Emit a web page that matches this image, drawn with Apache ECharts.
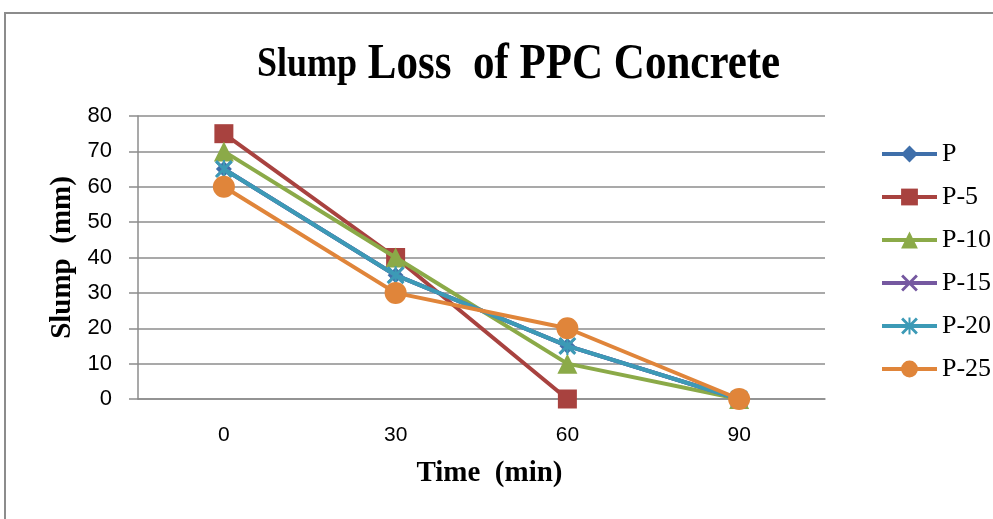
<!DOCTYPE html>
<html>
<head>
<meta charset="utf-8">
<title>Slump Loss of PPC Concrete</title>
<script src="https://cdn.jsdelivr.net/npm/echarts@6/dist/echarts.min.js"></script>
<style>
  html, body { margin: 0; padding: 0; background: #ffffff; }
  #chart { width: 993px; height: 519px; }
</style>
</head>
<body>
<div id="chart"></div>
<script>
// time after mixing (min)
const times = ['0', '30', '60', '90']
const seriesNames = ['P', 'P-5', 'P-10', 'P-15', 'P-20', 'P-25']
// slump values (mm)
const slumpP = [65, 35, 15, 0]
const slumpP5 = [75, 40, 0, null]
const slumpP10 = [70, 40, 10, 0]
const slumpP15 = [65, 35, 15, 0]
const slumpP20 = [65, 35, 15, 0]
const slumpP25 = [60, 30, 20, 0]
const yTicks = [0, 10, 20, 30, 40, 50, 60, 70, 80]

const colors = ['#3F6FAA', '#A8423F', '#8BAA48', '#7558A0', '#3C9AB6', '#E0853A']

// x mark and asterisk drawn as filled thin bars
const crossPath = 'path://M0,1.2 L1.2,0 L10,8.8 L8.8,10 Z M8.8,0 L10,1.2 L1.2,10 L0,8.8 Z'
const starPath = 'path://M0,1.2 L1.2,0 L10,8.8 L8.8,10 Z M8.8,0 L10,1.2 L1.2,10 L0,8.8 Z M4.4,0 L5.6,0 L5.6,10 L4.4,10 Z'

const seriesData = [slumpP, slumpP5, slumpP10, slumpP15, slumpP20, slumpP25]
const symbols = ['diamond', 'rect', 'triangle', crossPath, starPath, 'circle']
const symbolSizes = [16, 19, 20, 16, 18, 22]

const chart = echarts.init(document.getElementById('chart'))

const series = seriesNames.map((name, i) => ({
  name: name,
  type: 'line',
  data: seriesData[i],
  symbol: symbols[i],
  symbolSize: symbolSizes[i],
  showAllSymbol: true,
  connectNulls: false,
  lineStyle: { color: colors[i], width: 4 },
  itemStyle: { color: colors[i], borderWidth: 0 },
  z: 2 + i
}))

const option = {
  animation: false,
  backgroundColor: '#ffffff',
  color: colors,
  legend: {
    orient: 'vertical',
    left: 875,
    top: 136,
    itemWidth: 55,
    itemHeight: 21,
    itemGap: 17,
    lineStyle: { width: 4 },
    textStyle: {
      fontFamily: 'Liberation Serif',
      fontSize: 26,
      color: '#000',
      lineHeight: 24,
      padding: [0, 0, 0, 0]
    },
    data: seriesNames
  },
  grid: {
    left: 138,
    right: 168,
    top: 116,
    bottom: 120
  },
  xAxis: {
    type: 'category',
    data: times,
    name: 'Time  (min)',
    nameLocation: 'middle',
    nameGap: 60,
    nameTextStyle: {
      fontFamily: 'Liberation Serif',
      fontWeight: 'bold',
      fontSize: 29,
      color: '#000',
      padding: [0, 0, 0, 16]
    },
    axisLine: { lineStyle: { color: '#8c8c8c', width: 1.5 } },
    axisTick: { show: false },
    axisLabel: {
      fontFamily: 'Liberation Sans',
      fontSize: 21,
      color: '#000',
      margin: 26
    }
  },
  yAxis: {
    type: 'value',
    min: yTicks[0],
    max: yTicks[yTicks.length - 1],
    interval: 10,
    name: 'Slump  (mm)',
    nameLocation: 'middle',
    nameGap: 60,
    nameRotate: 90,
    nameTextStyle: {
      fontFamily: 'Liberation Serif',
      fontWeight: 'bold',
      fontSize: 29,
      color: '#000'
    },
    axisLine: { show: true, lineStyle: { color: '#8c8c8c', width: 1.5 } },
    axisTick: { show: true, length: 9, lineStyle: { color: '#8c8c8c', width: 1.5 } },
    axisLabel: {
      fontFamily: 'Liberation Sans',
      fontSize: 22,
      color: '#000',
      margin: 26
    },
    splitLine: { lineStyle: { color: '#8c8c8c', width: 1.5 } }
  },
  graphic: [{
    type: 'rect',
    shape: { x: 5, y: 13, width: 1100, height: 600 },
    style: { fill: 'none', stroke: '#8c8c8c', lineWidth: 2 },
    silent: true
  }, {
    // title, stretched vertically like the original
    type: 'text',
    x: 257,
    y: 39,
    scaleY: 1.2,
    silent: true,
    style: {
      text: '{a|Slump}{b| Loss  of PPC Concrete}',
      verticalAlign: 'top',
      rich: {
        a: { fontFamily: 'Liberation Serif', fontWeight: 'bold', fontSize: 36, fill: '#000' },
        b: { fontFamily: 'Liberation Serif', fontWeight: 'bold', fontSize: 43, fill: '#000' }
      }
    }
  }],
  series: series
}

chart.setOption(option)
</script>
</body>
</html>
